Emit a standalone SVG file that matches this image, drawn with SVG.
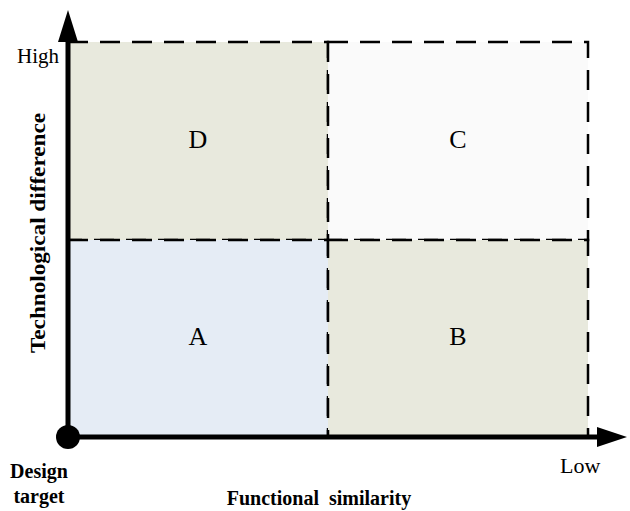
<svg xmlns="http://www.w3.org/2000/svg" width="630" height="511" viewBox="0 0 630 511">
<style>
.cell{stroke:#000;stroke-width:2.5;stroke-dasharray:20 12}
</style>
<rect width="630" height="511" fill="#fff"/>
<g font-family="'Liberation Serif', 'Times New Roman', serif" fill="#000">
<g id="cellD"><rect class="cell" x="68" y="42" width="260" height="198" fill="#e8e9dd"/><text x="198" y="148" font-size="26" text-anchor="middle">D</text></g>
<g id="cellC"><rect class="cell" x="328" y="42" width="260" height="198" fill="#fafafa"/><text x="458" y="148" font-size="26" text-anchor="middle">C</text></g>
<g id="cellA"><rect class="cell" x="68" y="240" width="260" height="197" fill="#e5ecf5"/><text x="198" y="345" font-size="26" text-anchor="middle">A</text></g>
<g id="cellB"><rect class="cell" x="328" y="240" width="260" height="197" fill="#e8e9dd"/><text x="458" y="345" font-size="26" text-anchor="middle">B</text></g>
<g id="axes">
<line x1="68" y1="437" x2="68" y2="40" stroke="#000" stroke-width="5"/>
<polygon points="68,10 58,42 78,42" fill="#000"/>
<line x1="68" y1="437" x2="600" y2="437" stroke="#000" stroke-width="5"/>
<polygon points="627,437 597,427 597,447" fill="#000"/>
<circle cx="68" cy="437" r="12" fill="#000"/>
</g>
<g id="labels">
<text x="17" y="63" font-size="21">High</text>
<text x="560" y="473" font-size="22">Low</text>
<text x="39" y="478" font-size="20" font-weight="bold" text-anchor="middle">Design</text>
<text x="39" y="503" font-size="20" font-weight="bold" text-anchor="middle">target</text>
<text x="319" y="505" font-size="20" font-weight="bold" text-anchor="middle" xml:space="preserve">Functional  similarity</text>
<text transform="translate(45,233) rotate(-90)" font-size="21" font-weight="bold" text-anchor="middle" textLength="240" lengthAdjust="spacingAndGlyphs">Technological difference</text>
</g>
</g>
</svg>
